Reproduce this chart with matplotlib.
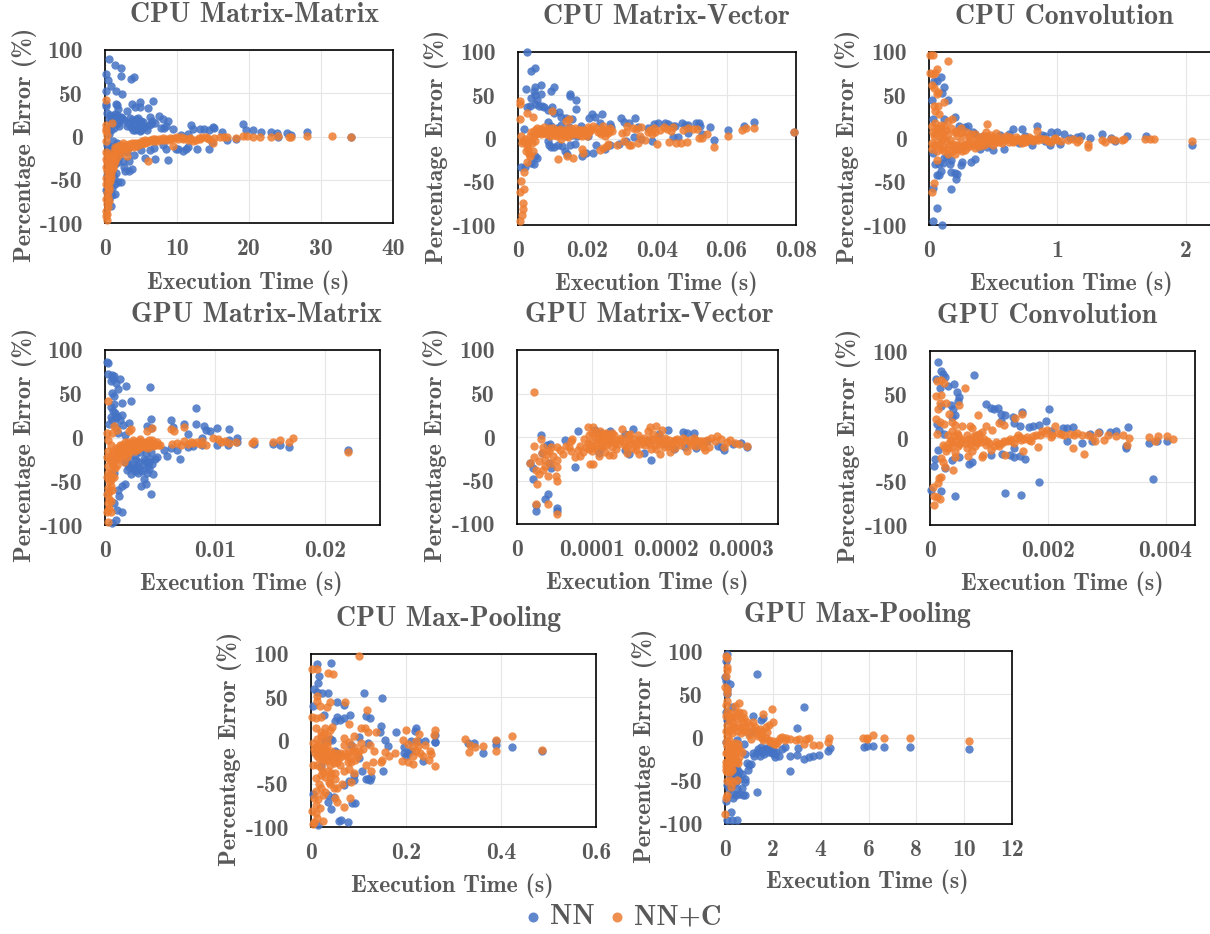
import matplotlib
matplotlib.use('Agg')
import matplotlib.pyplot as plt

W, H = 1210, 934
GREY = '#595959'
BLUE = '#4472C4'
ORANGE = '#ED7D31'
FONT = 'cmb10'

# points are (execution time, percentage error)
cpu_mm_nn = [(0.5,90),(1.4,83),(2.2,79),(2.2,70),(3.6,67),(4.0,69),(0.2,72),(0.4,65),(0.8,58),(1.5,53),(2.3,49),(0.2,53),(0.1,38),(0.2,35),(1.5,38),(1.6,36),(1.8,32),(3.7,38),(4.2,34),(4.8,40),(4.8,34),(6.0,33),(6.7,41),(3,29),(0.3,27),(0.7,25),(1.1,24),(1.4,26),(1.7,25),(2.2,22),(2.4,21),(3.5,21),(3.7,19),(4.3,20),(4.6,21),(5,18),(5.3,17),(6.2,22),(6.5,18),(7.5,24),(8,20),(8.7,18),(3.1,12),(3.6,11),(3.9,8),(4.1,7),(4.4,9),(4.8,6),(5.0,8),(5.3,12),(5.6,11),(6.1,13),(6.4,15),(7,16),(7.8,10),(8.2,10),(9.5,9),(8.5,12),(12,13),(12.2,9),(13.2,9),(13.8,9),(14.5,8),(15,11),(15.2,10),(16.2,5),(19.2,14),(19.6,8),(20.5,7),(21.7,5),(23,5),(23.9,4),(25.3,4),(25.8,2),(28,5),(11.5,3),(10.5,2),(0.3,-10),(0.6,-15),(1,-12),(1.5,-20),(2.0,-22),(2.5,-28),(2.6,-35),(2.8,-40),(3.3,-40),(3.7,-37),(4,-21),(5,-16),(5.6,-25),(7,-26),(8.7,-27),(6.2,-16),(6.8,-13),(8,-10),(8.5,-14),(9.8,-14),(10.2,-14),(10.8,-17),(11.2,-15),(11.5,-12),(12.8,-15),(14.4,-14),(14.8,-6),(17,-4),(18.2,-3),(24,-1),(34.2,-1),(1.8,-53),(2.2,-53),(1.4,-55),(1.5,-42),(1.0,-60),(1.4,-66),(1.0,-68),(0.9,-80),(0.5,-72),(0.2,-62),(0.3,-45),(0.8,-40),(1.4,-32),(1.8,-30)]
cpu_mm_nn_dense = [(0.5,20),(0.9,18),(1.2,20),(1.6,15),(2.0,17),(2.6,19),(3.2,16),(4.0,14),(4.5,12),(5.0,14),(5.8,8),(0.4,10),(0.8,8),(1.3,10),(1.9,12),(0.6,3),(1.1,-5),(1.7,-8),(2.3,-16),(3,-18),(3.4,-28),(0.4,-25),(0.7,-30),(1.1,-45),(0.7,-55),(1.3,-48)]
cpu_mm_nnc = [(0.2,42),(0.1,13),(0.2,9),(0.2,6),(0.3,2),(1,16),(0.2,-5),(0.1,-18),(0.3,-20),(0.1,-26),(0.1,-35),(0.3,-40),(0.2,-48),(0.4,-55),(0.5,-62),(0.2,-72),(0.6,-75),(0.1,-86),(0.3,-90),(0.3,-96),(0.4,-82),(0.5,-44),(0.7,-38),(0.8,-33),(0.9,-42),(1.0,-30),(1.1,-36),(1.3,-25),(1.4,-28),(1.5,-20),(1.6,-24),(1.8,-18),(2.0,-15),(2.1,-20),(2.4,-13),(2.7,-11),(3,-23),(3,-10),(3.4,-9),(3.8,-8),(4.2,-7),(4.6,-7),(5,-9),(5.2,-5),(5.6,-4),(6,-28),(6.2,-4),(6.6,-3),(7,-3),(7.5,-3),(8,-2),(8.5,-3),(9,-2),(9.6,-2),(9.5,-11),(10,-1),(10.5,-1),(11,-2),(11.5,-4),(12,-3),(12.6,-4),(13,-2),(13.5,-1),(14,-1),(14.5,-3),(15,-8),(15.2,-2),(16,0),(16.5,-1),(17,-1),(18.2,-2),(19.2,1),(19.7,1),(20.6,0),(21.5,0),(23,0),(24,1),(25.5,0),(25.9,-1),(28,1),(31.5,1),(34.2,0),(0.4,-70),(0.5,-50),(0.6,-46),(0.7,-52),(0.8,-47),(1.0,-25),(1.2,-22),(1.3,-32),(1.5,-15),(1.7,-13),(2.2,-10),(0.6,-30),(0.6,-24),(0.4,-28),(0.5,-35),(1.1,-18),(1.4,-12),(1.8,-11),(2.5,-8),(3.2,-15),(4,-12),(4.5,-11),(5.5,-7),(7.2,-5),(8.8,-4)]
cpu_mm_nnc_dense = [(0.3,-30),(0.4,-38),(0.5,-42),(0.6,-58),(0.7,-45),(0.8,-28),(0.9,-35),(1.0,-38),(1.2,-28),(1.3,-20),(1.6,-17),(1.9,-14),(2.3,-16),(2.6,-14),(2.9,-13),(3.2,-12),(3.6,-11),(4.0,-9),(4.4,-9),(4.8,-8),(5.4,-8),(5.9,-6),(6.4,-5),(6.8,-5),(7.8,-4),(8.2,-4),(9.2,-3),(10.2,-3),(10.8,-3),(11.8,-2),(12.2,-5),(13.2,-3),(14.2,-2),(0.2,-55),(0.3,-65),(0.4,-60),(0.3,-78),(0.2,-92)]

cpu_mv_nn = [(0.0025,100),(0.0038,78),(0.0048,81),(0.0024,57),(0.0050,59),(0.0045,55),(0.0065,62),(0.0095,55),(0.0103,60),(0.0065,52),(0.0037,47),(0.0048,50),(0.0055,45),(0.0150,51),(0.0149,49),(0.0168,44),(0.0168,34),(0.0025,36),(0.0035,37),(0.005,40),(0.006,38),(0.007,38),(0.0075,36),(0.0085,33),(0.0098,36),(0.0105,30),(0.0118,31),(0.0125,25),(0.0138,24),(0.0155,23),(0.0018,11),(0.0008,-33),(0.002,-33),(0.0045,-29),(0.0037,-28),(0.0055,-22),(0.0048,-20),(0.0085,19),(0.0095,15),(0.0113,12),(0.0125,16),(0.0148,13),(0.018,14),(0.0205,24),(0.0212,28),(0.0222,25),(0.0237,18),(0.0243,28),(0.0265,17),(0.0268,13),(0.0295,24),(0.0305,19),(0.032,18),(0.0337,24),(0.0345,13),(0.0375,12),(0.039,17),(0.0402,18),(0.0422,18),(0.0432,17),(0.0445,15),(0.0451,15),(0.0472,18),(0.048,16),(0.049,16),(0.0513,18),(0.052,18),(0.0525,15),(0.0552,13),(0.0565,-2),(0.0605,10),(0.065,15),(0.0678,19),(0.0795,8),(0.0085,-3),(0.0088,-8),(0.0095,-10),(0.0105,-10),(0.0115,-8),(0.0128,-9),(0.0135,-15),(0.014,-18),(0.015,-8),(0.0165,-6),(0.0185,-20),(0.0195,-17),(0.0215,-17),(0.0225,-8),(0.025,-12),(0.0265,-8),(0.029,-6),(0.031,-3),(0.0335,2),(0.0355,0),(0.0385,-3),(0.0445,2),(0.046,2),(0.0488,6),(0.053,5),(0.0135,5),(0.0155,4),(0.017,3),(0.02,3)]
cpu_mv_nnc = [(0.0007,43),(0.0005,40),(0.0007,23),(0.0042,25),(0.0027,30),(0.0098,32),(0.0138,20),(0.0148,23),(0.0008,-49),(0.0007,-62),(0.0018,-58),(0.0015,-74),(0.0015,-82),(0.0012,-89),(0.0005,-95),(0.0018,-39),(0.0025,-27),(0.0035,-20),(0.0115,-24),(0.014,-20),(0.0158,-23),(0.0009,3),(0.0012,-5),(0.0015,-3),(0.002,0),(0.0025,-8),(0.003,-12),(0.0035,3),(0.004,-5),(0.0042,-15),(0.0045,7),(0.005,10),(0.0055,12),(0.006,8),(0.0065,5),(0.007,10),(0.0075,13),(0.008,7),(0.0085,10),(0.009,6),(0.0095,9),(0.01,12),(0.0105,4),(0.011,8),(0.0115,10),(0.012,5),(0.0125,-1),(0.013,8),(0.0135,10),(0.014,6),(0.0145,2),(0.015,12),(0.0155,7),(0.016,9),(0.0165,12),(0.017,5),(0.0175,10),(0.018,7),(0.0185,3),(0.019,10),(0.0195,5),(0.02,13),(0.0205,7),(0.021,10),(0.0215,14),(0.0185,-12),(0.0186,-17),(0.0235,-13),(0.0245,-11),(0.0255,-9),(0.026,-6),(0.0225,12),(0.023,8),(0.024,5),(0.0245,15),(0.025,3),(0.0255,10),(0.026,6),(0.0265,12),(0.027,9),(0.0285,-8),(0.03,6),(0.0305,-3),(0.031,8),(0.0315,15),(0.032,-8),(0.033,12),(0.0325,-7),(0.034,11),(0.0345,-5),(0.035,3),(0.0355,13),(0.0365,-2),(0.0375,8),(0.038,10),(0.0385,5),(0.039,12),(0.04,-6),(0.0395,8),(0.041,10),(0.042,13),(0.043,11),(0.044,9),(0.0435,-4),(0.0445,13),(0.0455,-5),(0.047,-5),(0.0475,10),(0.0485,-4),(0.049,12),(0.0505,11),(0.052,1),(0.0515,11),(0.053,1),(0.0545,5),(0.0565,-10),(0.0605,3),(0.0645,10),(0.0655,12),(0.068,12),(0.0795,7)]
cpu_mv_nnc_dense = [(0.0022,-15),(0.0028,-4),(0.0032,-18),(0.0038,8),(0.0042,2),(0.0048,-3),(0.0052,5),(0.0058,6),(0.0062,11),(0.0068,9),(0.0072,6),(0.0078,9),(0.0082,5),(0.0088,12),(0.0092,3),(0.0098,7),(0.0102,9),(0.0108,6),(0.0112,3),(0.0118,7),(0.0122,11),(0.0128,4),(0.0132,6),(0.0138,3),(0.0142,10),(0.0148,8),(0.0152,5),(0.0158,10),(0.0162,5),(0.0168,8),(0.0172,9),(0.0178,4),(0.0182,10),(0.0188,6),(0.0192,8),(0.0198,3),(0.0202,9),(0.0208,11),(0.0235,7),(0.0242,11),(0.0252,7),(0.0262,9)]

cpu_conv_nn = [(0.09,71),(0.06,66),(0.12,59),(0.15,45),(0.02,45),(0.04,67),(0.1,53),(0.06,-80),(0.03,-95),(0.1,-100),(0.17,-58),(0.03,-57),(0.21,-47),(0.2,-40),(0.17,-39),(0.22,-41),(0.06,-42),(0.09,-38),(0.08,-42),(0.25,-31),(0.26,-27),(0.33,-27),(0.36,-24),(0.05,-29),(0.08,-29),(0.11,-28),(0.16,-30),(0.12,-22),(0.17,-25),(0.14,-20),(0.03,-17),(0.2,25),(0.12,22),(0.03,22),(0.23,15),(0.28,13),(0.3,15),(0.34,8),(0.65,11),(0.72,11),(0.84,15),(0.62,5),(0.8,-7),(0.94,-8),(0.95,7),(1.0,7),(1.05,5),(1.1,1),(1.15,2),(1.18,3),(1.25,1),(1.35,5),(1.42,1),(1.45,-3),(1.54,3),(1.69,3),(2.05,-7),(0.5,-13),(0.45,-10),(0.4,-12),(0.58,-12),(0.7,-5),(0.9,3),(0.9,-3),(0.36,5),(0.42,3),(0.55,4),(0.75,3),(0.88,4),(1.02,-6)]
cpu_conv_nnc = [(0.01,96),(0.03,96),(0.15,90),(0.01,76),(0.03,74),(0.06,80),(0.05,76),(0.02,62),(0.04,58),(0.06,52),(0.07,54),(0.12,42),(0.04,37),(0.07,38),(0.05,32),(0.08,28),(0.02,-62),(0.04,-51),(0.06,-25),(0.45,17),(0.84,9),(0.02,15),(0.05,18),(0.08,12),(0.1,7),(0.12,15),(0.15,20),(0.18,22),(0.2,8),(0.22,3),(0.25,12),(0.02,-5),(0.04,-8),(0.07,-4),(0.09,-12),(0.11,-10),(0.13,-3),(0.16,-8),(0.18,-15),(0.2,-18),(0.23,-12),(0.26,-14),(0.28,-8),(0.3,-5),(0.32,2),(0.34,-6),(0.36,5),(0.38,-3),(0.4,-9),(0.42,3),(0.44,8),(0.46,-2),(0.48,4),(0.5,-7),(0.52,6),(0.54,-4),(0.56,2),(0.58,-2),(0.6,3),(0.62,-4),(0.64,0),(0.66,-3),(0.68,2),(0.7,-2),(0.72,-5),(0.74,1),(0.76,-3),(0.78,2),(0.82,-1),(0.85,-2),(0.88,0),(0.92,-2),(0.95,-4),(0.98,1),(1.0,-2),(1.03,-3),(1.08,-2),(1.12,-1),(1.15,-4),(1.17,-2),(1.24,-6),(1.24,-10),(1.35,-2),(1.37,-4),(1.42,-1),(1.45,-2),(1.5,-2),(1.52,0),(1.68,-1),(1.72,-1),(1.75,-1),(2.05,-3)]
cpu_conv_nnc_dense = [(0.03,8),(0.05,5),(0.07,10),(0.09,16),(0.11,3),(0.13,10),(0.14,-12),(0.15,5),(0.16,-2),(0.17,12),(0.19,-6),(0.2,-12),(0.21,9),(0.22,-8),(0.24,6),(0.25,-4),(0.26,-9),(0.27,4),(0.28,-13),(0.29,7),(0.3,-10),(0.31,-3),(0.32,-8),(0.33,5),(0.35,-7),(0.36,-11),(0.37,-2),(0.39,-6),(0.4,2),(0.41,-5),(0.43,-7),(0.44,-2),(0.45,3),(0.47,-5),(0.49,-2),(0.5,2),(0.51,-4),(0.53,1),(0.55,-3),(0.57,-5),(0.59,0),(0.61,-1),(0.63,2),(0.65,-4),(0.67,-2),(0.69,0),(0.71,-3),(0.73,1),(0.75,-4),(0.77,-1),(0.79,0),(0.81,-3),(0.83,-1),(0.86,1),(0.9,-1),(0.93,-3),(0.97,-1),(0.06,12),(0.08,-8),(0.1,-2),(0.12,-15),(0.15,-18),(0.02,-12),(0.04,3),(0.06,-15),(0.09,2)]

gpu_mm_nn = [(0.0002,86),(0.0003,85),(0.0003,73),(0.0006,72),(0.0008,70),(0.0007,67),(0.0014,67),(0.0019,59),(0.0041,58),(0.001,62),(0.0012,55),(0.0005,65),(0.0006,51),(0.0008,48),(0.0024,42),(0.0015,39),(0.0008,38),(0.0005,35),(0.0015,26),(0.0007,30),(0.0005,24),(0.001,22),(0.0014,20),(0.0022,17),(0.0083,34),(0.006,20),(0.0072,16),(0.0083,15),(0.0042,21),(0.0038,13),(0.0042,11),(0.009,13),(0.0092,9),(0.0102,11),(0.0113,10),(0.0062,12),(0.0075,4),(0.0095,7),(0.0042,-64),(0.0037,-53),(0.0033,-55),(0.0035,-47),(0.0038,-40),(0.0044,-42),(0.004,-36),(0.003,-40),(0.0027,-38),(0.0022,-34),(0.002,-37),(0.0025,-32),(0.003,-28),(0.0035,-30),(0.004,-28),(0.0045,-25),(0.0047,-22),(0.0035,-24),(0.0028,-26),(0.0018,-53),(0.0015,-55),(0.0012,-60),(0.0013,-67),(0.0015,-85),(0.0011,-83),(0.0008,-75),(0.001,-94),(0.0006,-98),(0.0003,-62),(0.0008,-41),(0.0068,-25),(0.0056,-21),(0.0054,-14),(0.006,-12),(0.0065,-14),(0.0075,-11),(0.008,-10),(0.0088,-8),(0.0102,-8),(0.0112,-8),(0.012,-5),(0.0135,-7),(0.012,0),(0.0153,-7),(0.0159,-8),(0.0167,-11),(0.0221,-14),(0.0113,-3),(0.0088,-1),(0.0032,-16),(0.0037,-18),(0.0042,-17),(0.0027,-20)]
gpu_mm_nn_dense = [(0.0009,28),(0.0011,25),(0.0006,20),(0.0004,15),(0.001,12),(0.0016,14),(0.0012,5),(0.0018,3),(0.0023,-25),(0.0026,-35),(0.0029,-33),(0.0032,-36),(0.0034,-38),(0.0036,-27),(0.0039,-32),(0.0041,-24),(0.0043,-30),(0.0024,-42),(0.0021,-30),(0.0018,-28)]
gpu_mm_nnc = [(0.0003,42),(0.0008,13),(0.0002,5),(0.0006,5),(0.0011,9),(0.0022,8),(0.0024,10),(0.0038,8),(0.0043,11),(0.006,10),(0.0063,7),(0.0072,12),(0.0003,-3),(0.0005,-8),(0.0003,-97),(0.0002,-85),(0.0005,-85),(0.0003,-75),(0.0004,-70),(0.0002,-65),(0.0006,-60),(0.0003,-58),(0.0004,-50),(0.0002,-45),(0.0005,-40),(0.0003,-32),(0.0006,-28),(0.0008,-22),(0.001,-18),(0.0007,-15),(0.0012,-25),(0.0013,-12),(0.0015,-8),(0.0016,-17),(0.0018,-5),(0.002,-22),(0.0021,-10),(0.0023,-14),(0.0025,-3),(0.0026,-9),(0.0028,-12),(0.003,-6),(0.0032,-2),(0.0033,-10),(0.0035,-8),(0.0037,-5),(0.0039,-12),(0.004,-3),(0.0042,-6),(0.0044,-10),(0.0046,-7),(0.0048,-9),(0.0061,-7),(0.0065,-6),(0.0069,-8),(0.0072,-4),(0.0075,-7),(0.008,-6),(0.0084,-5),(0.0088,-4),(0.0092,-8),(0.0098,-1),(0.0103,-2),(0.0109,-4),(0.0113,-6),(0.0119,-5),(0.0135,-4),(0.0134,-6),(0.0153,-5),(0.0159,-3),(0.0167,-5),(0.0171,-1),(0.0221,-16),(0.0011,-31),(0.0009,-35),(0.0005,-55),(0.0008,-45),(0.0004,-80),(0.0017,-28)]
gpu_mm_nnc_dense = [(0.0004,-25),(0.0006,-20),(0.0007,-33),(0.0009,-25),(0.001,-12),(0.0011,-20),(0.0012,-15),(0.0013,-22),(0.0014,-8),(0.0015,-14),(0.0016,-11),(0.0017,-20),(0.0018,-13),(0.0019,-9),(0.002,-15),(0.0021,-5),(0.0022,-18),(0.0023,-7),(0.0024,-11),(0.0025,-13),(0.0026,-5),(0.0027,-15),(0.0029,-8),(0.003,-13),(0.0031,-4),(0.0032,-11),(0.0034,-5),(0.0036,-11),(0.0038,-7),(0.0041,-9),(0.0043,-3),(0.0045,-8),(0.0047,-5),(0.005,-9),(0.0003,-15),(0.0002,-22),(0.0003,-40),(0.0004,-62),(0.0005,-48),(0.0003,-83),(0.0005,-72),(0.0006,-45),(0.0078,-5),(0.0086,-7),(0.0105,-5)]

gpu_mv_nn = [(0.000018,-30),(0.000021,-36),(0.000022,-48),(0.000026,-85),(0.000025,-78),(0.000032,2),(0.000033,-18),(0.00004,-9),(0.000044,-8),(0.000038,-71),(0.000042,-65),(0.000054,-82),(0.000054,-85),(0.000043,-30),(0.000045,-36),(0.000065,-3),(0.000082,7),(0.000078,-35),(0.000105,8),(0.000113,5),(0.000125,7),(0.00011,-18),(0.000112,-13),(0.000145,4),(0.000155,9),(0.000165,-3),(0.000175,-5),(0.00018,-26),(0.00019,3),(0.000202,8),(0.0002,-8),(0.00021,-14),(0.000222,6),(0.000228,5),(0.000238,5),(0.000225,-11),(0.00024,-13),(0.000255,-5),(0.00027,-10),(0.000275,-12),(0.000278,-15),(0.00029,-8),(0.000308,-11),(0.0003,-7),(0.000145,-15),(0.00015,-20),(0.00017,-18)]
gpu_mv_nnc = [(0.000023,52),(0.000023,-10),(0.000023,-23),(0.000017,-30),(0.000025,-38),(0.000027,-54),(0.000025,-77),(0.000042,-77),(0.000054,-88),(0.000032,-2),(0.000035,-12),(0.00003,-28),(0.00003,-42),(0.000035,-38),(0.000038,-33),(0.000042,-45),(0.00004,-20),(0.000043,-16),(0.000048,-22),(0.000052,-45),(0.000054,-50),(0.000053,-35),(0.000054,-26),(0.000053,-11),(0.000062,-20),(0.000066,-10),(0.000072,-5),(0.000073,-16),(0.000074,-2),(0.000078,-23),(0.000085,-22),(0.000085,-10),(0.00009,-2),(0.000095,-7),(0.000095,11),(0.000098,-31),(0.000102,-31),(0.000102,-12),(0.000102,11),(0.000105,0),(0.000108,-4),(0.00011,-22),(0.000112,-9),(0.000115,3),(0.000118,-17),(0.00012,5),(0.000124,-21),(0.000125,-5),(0.000128,-12),(0.00013,2),(0.000129,-21),(0.000138,-4),(0.000141,9),(0.000145,-10),(0.00015,-3),(0.000152,3),(0.000155,-13),(0.000158,-7),(0.000162,2),(0.000164,-19),(0.000168,-3),(0.000172,-9),(0.000175,7),(0.000178,12),(0.00018,-14),(0.000182,-2),(0.000186,13),(0.00019,-6),(0.000192,-19),(0.000195,8),(0.000198,-3),(0.000202,-10),(0.000205,-17),(0.00021,-5),(0.000215,-2),(0.00022,-9),(0.000225,-3),(0.000228,-16),(0.000232,-7),(0.000238,-1),(0.000245,-5),(0.00025,-12),(0.000252,-15),(0.000258,-12),(0.00026,-1),(0.000268,1),(0.000274,-2),(0.000278,-11),(0.000285,-3),(0.000292,-7),(0.000298,-8),(0.000308,-10)]
gpu_mv_nnc_dense = [(0.000092,-12),(0.000096,2),(0.000099,-6),(0.0001,-16),(0.000101,5),(0.000104,-9),(0.000106,6),(0.000107,-14),(0.000109,-1),(0.000111,7),(0.000113,-6),(0.000114,-12),(0.000116,-3),(0.000117,4),(0.000119,-9),(0.000121,-2),(0.000122,-7),(0.000123,2),(0.000126,-1),(0.000127,5),(0.000131,-7),(0.000134,-3),(0.000136,-8),(0.00014,-1),(0.000143,-6),(0.000147,-12),(0.000149,2),(0.000153,-7),(0.000156,-2),(0.00016,-9),(0.000163,-4),(0.000166,-8),(0.00017,-1),(0.000174,-6),(0.000177,-2),(0.000179,-8),(0.000183,4),(0.000185,-9),(0.000188,-3),(0.000191,1),(0.000194,-8),(0.000197,-12),(0.000199,-1),(0.000201,-6),(0.000204,-3),(0.000208,-9),(0.000212,-3),(0.000218,-6),(0.000222,-1),(0.00023,-4),(0.000235,-9),(0.00024,-3),(0.000248,-8),(0.000255,-3),(0.000265,-5),(0.000282,-6),(0.000038,-26),(0.000034,-18),(0.000045,-30),(0.000046,-12),(0.000058,-15),(0.00007,-12),(0.000082,-15),(0.000088,-17),(0.000097,-14),(0.000133,-14),(0.000147,-18),(0.00016,-15),(0.000187,-14),(0.000212,-13),(0.00024,-10),(0.00025,-5)]

gpu_conv_nn = [(0.00013,87),(0.00019,77),(0.00022,74),(0.00026,70),(0.0001,68),(0.00017,58),(0.00031,60),(0.00041,62),(0.00045,53),(0.0005,47),(0.00047,43),(0.00075,72),(0.00035,38),(0.00039,33),(0.00038,24),(0.00043,26),(0.00018,37),(0.00095,39),(0.00103,35),(0.00115,35),(0.00108,33),(0.0012,28),(0.00128,26),(0.00141,24),(0.00157,30),(0.00202,33),(0.0012,19),(0.00143,17),(0.00152,14),(0.00168,13),(0.00175,14),(0.00185,15),(0.00197,19),(0.00205,8),(0.00225,12),(0.00232,11),(0.00243,13),(0.00272,5),(0.00287,7),(0.00305,7),(0.00315,8),(0.00337,13),(0.00012,16),(0.00015,9),(0.00024,5),(0.00008,-24),(0.00007,-32),(0.00013,-14),(0.00018,-61),(0.00002,-60),(0.00042,-67),(0.00128,-63),(0.00155,-65),(0.00185,-51),(0.00378,-47),(0.00067,-30),(0.00071,-28),(0.00037,-25),(0.00049,-22),(0.00103,-20),(0.00122,-18),(0.00135,-20),(0.00143,-22),(0.00152,-21),(0.00161,-24),(0.00143,-11),(0.00232,-4),(0.00258,-6),(0.00275,-4),(0.00332,-9),(0.00332,-12),(0.00372,-6),(0.00385,-4),(0.00402,-3),(0.00025,-35)]
gpu_conv_nnc = [(0.00012,65),(0.00018,67),(0.00023,63),(0.00059,58),(0.0001,48),(0.00018,50),(0.00028,40),(0.00017,40),(0.00013,33),(0.00049,38),(0.0001,22),(0.00017,18),(0.00024,16),(0.00032,28),(0.00082,27),(0.00157,28),(0.00145,23),(0.00118,17),(0.00125,15),(0.00037,18),(0.00042,15),(0.00055,14),(0.00068,14),(0.00012,5),(0.0003,3),(0.00038,8),(0.00045,6),(0.00052,-1),(0.00062,3),(0.00072,11),(0.00078,4),(0.00088,7),(0.00095,14),(0.00105,9),(0.00022,-8),(0.00031,-12),(0.00038,-5),(0.00043,-16),(0.00048,-9),(0.00055,-3),(0.00062,-11),(0.00068,-7),(0.00072,-15),(0.00078,-4),(0.00085,-2),(0.0009,-20),(0.00095,-8),(0.00103,-14),(0.00112,-5),(0.00118,-9),(0.00125,-3),(0.00128,-20),(0.00135,-1),(0.00142,-6),(0.0015,3),(0.00155,-2),(0.00158,-15),(0.00165,1),(0.00172,-3),(0.0018,4),(0.00183,-10),(0.0019,8),(0.00198,9),(0.00205,1),(0.00213,14),(0.00218,6),(0.00228,3),(0.00238,5),(0.00243,-12),(0.0025,6),(0.00258,4),(0.00262,-18),(0.00275,1),(0.0028,-3),(0.00285,6),(0.00295,-2),(0.00303,3),(0.00315,2),(0.00328,3),(0.00335,-8),(0.00338,0),(0.00372,1),(0.00382,-3),(0.00388,2),(0.00402,2),(0.00412,-1),(0.00022,-28),(0.00018,-23),(0.00025,-33),(0.00039,-37),(0.00015,-46),(0.00019,-45),(0.00013,-52),(0.00005,-56),(0.00006,-67),(0.00012,-68),(0.00017,-70),(0.00006,-77),(0.00042,-22),(0.00065,-21),(0.00088,-22)]
gpu_conv_nnc_dense = [(0.00035,-2),(0.00041,2),(0.00044,-3),(0.00047,4),(0.0005,-7),(0.00036,-10),(0.00033,-6),(0.00028,-15),(0.00026,-10),(0.0006,-6),(0.00066,-1),(0.0007,-3),(0.00074,2),(0.00076,-9),(0.0008,-6),(0.00083,5),(0.00087,-5),(0.00092,-1),(0.00097,-3),(0.001,-6),(0.00108,-9),(0.00115,-7),(0.00122,-6),(0.0013,-3),(0.00138,-4),(0.00146,0),(0.00153,1),(0.0016,-1),(0.00168,-2),(0.00175,2),(0.00186,3),(0.00195,6),(0.00208,4),(0.00222,5),(0.00245,3),(0.00268,3)]

cpu_pool_nn = [(0.013,89),(0.042,90),(0.016,75),(0.015,67),(0.007,60),(0.012,56),(0.023,55),(0.035,55),(0.111,55),(0.149,49),(0.004,40),(0.055,44),(0.07,41),(0.082,30),(0.028,30),(0.05,22),(0.055,27),(0.06,24),(0.07,26),(0.115,28),(0.125,26),(0.147,17),(0.145,10),(0.178,10),(0.22,15),(0.218,11),(0.26,6),(0.155,1),(0.163,-6),(0.03,0),(0.04,2),(0.045,1),(0.085,-5),(0.1,4),(0.12,-3),(0.21,-1),(0.225,-1),(0.24,0),(0.26,-2),(0.262,-2),(0.195,-8),(0.195,-14),(0.2,-18),(0.205,-15),(0.21,-12),(0.235,-24),(0.33,-3),(0.343,-3),(0.39,0),(0.39,-5),(0.423,-8),(0.362,-15),(0.487,-12),(0.05,-12),(0.055,-14),(0.1,-20),(0.108,-35),(0.152,-35),(0.115,-45),(0.12,-45),(0.125,-46),(0.127,-42),(0.09,-40),(0.08,-47),(0.09,-46),(0.07,-52),(0.036,-63),(0.035,-71),(0.042,-79),(0.048,-65),(0.086,-72),(0.092,-72),(0.058,-93),(0.063,-92),(0.078,-94),(0.015,-98),(0.005,-62),(0.02,-30)]
cpu_pool_nnc = [(0.101,98),(0.002,83),(0.012,83),(0.036,78),(0.047,77),(0.012,52),(0.013,46),(0.018,40),(0.034,39),(0.041,45),(0.071,44),(0.003,27),(0.011,26),(0.022,27),(0.118,35),(0.08,19),(0.105,14),(0.114,15),(0.12,10),(0.137,10),(0.222,0),(0.2,12),(0.228,8),(0.26,12),(0.258,6),(0.325,2),(0.39,1),(0.423,5),(0.362,-6),(0.335,-5),(0.333,-13),(0.345,-8),(0.39,-12),(0.487,-11),(0.194,1),(0.205,-4),(0.215,-8),(0.22,-12),(0.23,-15),(0.24,-5),(0.25,-12),(0.252,-16),(0.26,-30),(0.248,-22),(0.192,-24),(0.205,-25),(0.214,-27),(0.177,-15),(0.165,-18),(0.155,-13),(0.15,-22),(0.148,-25),(0.133,-12),(0.125,-5),(0.13,-25),(0.126,-35),(0.01,14),(0.02,10),(0.03,15),(0.04,12),(0.035,5),(0.045,16),(0.012,2),(0.02,0),(0.005,-3),(0.01,-8),(0.015,-12),(0.02,-15),(0.025,-18),(0.03,-10),(0.035,-22),(0.04,-28),(0.05,-20),(0.055,-25),(0.06,-15),(0.07,-5),(0.075,-18),(0.08,-12),(0.085,-25),(0.09,-8),(0.095,-15),(0.105,-3),(0.11,-10),(0.115,-28),(0.07,3),(0.08,-2),(0.09,5),(0.005,-28),(0.02,-32),(0.035,-35),(0.04,-42),(0.05,-38),(0.07,-35),(0.08,-33),(0.09,-38),(0.01,-43),(0.02,-40),(0.04,-50),(0.05,-45),(0.055,-55),(0.065,-50),(0.085,-48),(0.01,-58),(0.02,-55),(0.03,-60),(0.015,-68),(0.01,-74),(0.025,-63),(0.05,-67),(0.055,-71),(0.082,-66),(0.07,-77),(0.002,-82),(0.01,-84),(0.025,-93),(0.006,-94),(0.004,-97),(0.012,-90)]
cpu_pool_nnc_dense = [(0.006,-10),(0.008,-15),(0.012,-18),(0.014,-6),(0.016,-20),(0.018,-9),(0.022,-12),(0.024,-8),(0.026,-22),(0.028,-14),(0.03,-24),(0.032,-17),(0.034,-5),(0.036,-13),(0.038,-19),(0.042,-12),(0.044,-20),(0.046,-16),(0.048,-26),(0.052,-14),(0.058,-20),(0.062,-28),(0.066,-18),(0.072,-15),(0.078,-25),(0.082,-20),(0.088,-12),(0.092,-22),(0.098,-18),(0.102,-12),(0.022,5),(0.028,8),(0.033,-2),(0.038,-48),(0.043,-37),(0.048,-55),(0.03,-42),(0.025,-36),(0.012,-28),(0.016,-50),(0.006,-66),(0.018,-78),(0.215,-18),(0.225,-6),(0.235,-18)]

gpu_pool_nn = [(0.1,97),(0.05,88),(0.0,70),(0.2,62),(0.1,50),(1.34,73),(3.32,35),(0.3,35),(1.15,25),(1.6,22),(1.5,20),(3.0,11),(1.0,5),(1.2,7),(0.5,-3),(0.8,-8),(0.85,-19),(1.15,-18),(1.2,-21),(1.35,-17),(1.45,-21),(1.5,-11),(1.6,-14),(1.7,-12),(1.8,-17),(1.9,-14),(2.0,-16),(2.05,-19),(2.1,-22),(2.25,-21),(2.4,-13),(2.5,-11),(2.72,-21),(3.0,-20),(3.07,-12),(3.32,-25),(3.5,-22),(3.7,-21),(3.95,-20),(4.3,-16),(4.38,-12),(5.8,-11),(5.95,-10),(6.2,-10),(6.65,-11),(7.75,-11),(10.2,-13),(2.72,-39),(1.35,-63),(0.85,-52),(0.85,-48),(0.95,-38),(1.0,-32),(1.1,-31),(0.9,-30),(0.6,-40),(0.5,-44),(0.6,-48),(0.45,-52),(0.3,-55),(0.7,-58),(0.5,-60),(0.45,-66),(0.6,-65),(0.75,-66),(0.85,-66),(0.35,-70),(0.05,-73),(0.25,-86),(0.1,-95),(0.3,-95),(0.52,-95)]
gpu_pool_nn_dense = [(0.2,-35),(0.3,-42),(0.4,-38),(0.5,-36),(0.7,-42),(0.25,-48),(0.15,-60),(0.3,-65),(0.2,-45),(0.1,-55),(1.4,-13),(1.55,-17),(1.65,-19),(1.75,-13),(1.85,-12),(1.95,-18),(2.15,-17),(0.05,30),(0.1,20),(0.05,-5),(0.1,55),(0.05,65)]
gpu_pool_nnc = [(0.05,94),(0.1,92),(0.1,82),(0.08,78),(0.05,71),(0.02,58),(0.1,56),(0.08,52),(0.1,42),(0.05,38),(0.6,40),(0.4,36),(1.6,27),(1.95,33),(2.0,18),(1.7,12),(1.85,14),(0.6,30),(0.75,28),(0.8,22),(0.9,18),(1.05,14),(1.15,18),(1.25,12),(0.15,25),(0.3,18),(0.45,22),(0.55,15),(0.4,12),(0.2,10),(0.5,8),(0.65,5),(0.8,7),(1.0,3),(1.1,-2),(1.3,5),(1.4,2),(1.55,-1),(1.7,0),(1.85,-3),(2.0,-4),(2.15,-7),(2.3,-1),(2.4,1),(2.55,0),(2.7,-2),(2.95,-3),(3.1,-2),(3.3,-8),(3.4,-2),(3.5,-1),(3.7,-9),(3.95,-9),(4.3,-5),(4.35,-1),(5.75,0),(5.95,-2),(5.95,0),(6.2,3),(6.65,0),(7.75,0),(10.2,-4),(0.05,-5),(0.1,-10),(0.2,-8),(0.3,-14),(0.4,-6),(0.5,-11),(0.6,-13),(0.7,-17),(0.1,-18),(0.2,-22),(0.3,-25),(0.4,-20),(0.5,-27),(0.6,-22),(0.05,-28),(0.15,-32),(0.25,-35),(0.35,-30),(0.05,-38),(0.1,-50),(0.2,-49),(0.35,-52),(0.5,-49),(0.25,-57),(0.1,-67),(0.05,-70),(0.02,-88)]
gpu_pool_nnc_dense = [(0.1,30),(0.05,25),(0.1,15),(0.2,20),(0.15,8),(0.3,5),(0.35,12),(0.25,28),(0.35,24),(0.5,28),(0.65,22),(0.7,12),(0.75,18),(0.85,12),(0.95,8),(1.2,9),(1.45,10),(1.55,8),(1.75,6),(0.05,8),(0.1,2),(0.15,-3),(0.25,-12),(0.35,-9),(0.45,-16),(0.55,-7),(0.15,-14),(0.25,-18),(0.35,-22),(0.45,-28),(0.55,-30),(0.15,-25),(0.25,-28),(0.1,-30),(0.05,-18),(0.05,-33),(0.2,-40),(0.1,-40),(0.3,-38),(1.5,3),(1.6,-3),(1.9,-5),(2.05,-8),(2.2,-4),(2.5,-3)]

# one entry per panel, in drawing order
titles = ['CPU Matrix-Matrix', 'CPU Matrix-Vector', 'CPU Convolution',
          'GPU Matrix-Matrix', 'GPU Matrix-Vector', 'GPU Convolution',
          'CPU Max-Pooling', 'GPU Max-Pooling']
nn_points = [cpu_mm_nn + cpu_mm_nn_dense, cpu_mv_nn, cpu_conv_nn, gpu_mm_nn + gpu_mm_nn_dense,
             gpu_mv_nn, gpu_conv_nn, cpu_pool_nn, gpu_pool_nn + gpu_pool_nn_dense]
nnc_points = [cpu_mm_nnc + cpu_mm_nnc_dense, cpu_mv_nnc + cpu_mv_nnc_dense, cpu_conv_nnc + cpu_conv_nnc_dense,
              gpu_mm_nnc + gpu_mm_nnc_dense, gpu_mv_nnc + gpu_mv_nnc_dense, gpu_conv_nnc + gpu_conv_nnc_dense,
              cpu_pool_nnc + cpu_pool_nnc_dense, gpu_pool_nnc + gpu_pool_nnc_dense]
x_limits = [40, 0.08, 2.187, 0.025, 0.00035, 0.0045, 0.6, 12]
x_ticks = [[0, 10, 20, 30, 40], [0, 0.02, 0.04, 0.06, 0.08], [0, 1, 2], [0, 0.01, 0.02],
           [0, 0.0001, 0.0002, 0.0003], [0, 0.002, 0.004], [0, 0.2, 0.4, 0.6], [0, 2, 4, 6, 8, 10, 12]]
x_tick_labels = [['0', '10', '20', '30', '40'], ['0', '0.02', '0.04', '0.06', '0.08'], ['0', '1', '2'],
                 ['0', '0.01', '0.02'], ['0', '0.0001', '0.0002', '0.0003'], ['0', '0.002', '0.004'],
                 ['0', '0.2', '0.4', '0.6'], ['0', '2', '4', '6', '8', '10', '12']]
y_ticks = [-100, -50, 0, 50, 100]
y_tick_labels = ['-100', '-50', '0', '50', '100']

# pixel layout: left, top, right, bottom of each plot box
boxes = [(105, 50, 393, 223), (518, 52, 796, 225), (929, 52, 1210, 225),
         (105, 350, 380, 525), (517, 350, 778, 524), (930, 351, 1195, 525),
         (311, 654, 596, 827), (725, 651, 1012, 824)]
title_pos = [(255, 15), (666, 17), (1064, 17), (256, 315), (649, 315), (1047, 316), (449, 619), (857, 615)]
xlabel_pos = [(248, 283), (656, 284), (1071, 284), (241, 584), (647, 583), (1062, 584), (452, 886), (867, 882)]
ylabel_pos = [(25, 145), (437, 147), (848, 147), (25, 445), (436, 445), (849, 446), (230, 749), (645, 746)]


def add_text(fig, pos, text, size, **kw):
    fig.text(pos[0] / W, 1 - pos[1] / H, text, fontsize=size, color=GREY, family=FONT,
             ha='center', va='center', **kw)


def draw_panel(fig, i):
    left, top, right, bottom = boxes[i]
    ax = fig.add_axes([left / W, 1 - bottom / H, (right - left) / W, (bottom - top) / H])
    for points, color in ((nn_points[i], BLUE), (nnc_points[i], ORANGE)):
        xs, ys = zip(*points)
        ax.scatter(xs, ys, s=36, color=color, alpha=0.85, linewidths=0, clip_on=False, zorder=3)
    ax.set_xlim(0, x_limits[i])
    ax.set_ylim(-100, 100)
    ax.set_xticks(x_ticks[i], x_tick_labels[i])
    ax.set_yticks(y_ticks, y_tick_labels)
    ax.grid(color='#E6E6E6', linewidth=0.8)
    ax.set_axisbelow(True)
    ax.tick_params(length=0, labelsize=17, labelcolor=GREY)
    ax.tick_params(axis='x', pad=11)
    ax.tick_params(axis='y', pad=16)
    for label in ax.get_xticklabels() + ax.get_yticklabels():
        label.set_family(FONT)
    for spine in ax.spines.values():
        spine.set_color('black')
        spine.set_linewidth(1.2)
    if i == 2:
        ax.spines['right'].set_visible(False)
    add_text(fig, title_pos[i], titles[i], 20)
    add_text(fig, xlabel_pos[i], 'Execution Time (s)', 17.2)
    add_text(fig, ylabel_pos[i], 'Percentage Error (%)', 17.6, rotation=90)
    return ax


if __name__ == "__main__":
    fig = plt.figure(figsize=(W / 100, H / 100), dpi=100)
    axes = [draw_panel(fig, i) for i in range(len(titles))]

    handles = axes[0].collections[:2]
    fig.legend(handles, ['NN', 'NN+C'], loc='center', bbox_to_anchor=(623 / W, 1 - 917 / H),
               ncol=2, frameon=False, markerscale=1.2, handlelength=0.6, handletextpad=0.3,
               columnspacing=0.45, prop={'family': FONT, 'size': 20.5}, labelcolor=GREY)

    fig.savefig('out.png', dpi=100)
